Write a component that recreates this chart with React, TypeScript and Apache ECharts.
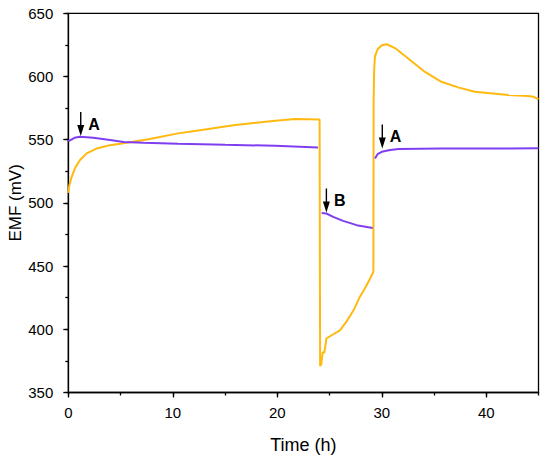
import React, { useEffect, useRef } from "react";
import * as echarts from "echarts";

// Time (h) / EMF (mV) pairs
const yellowTime = [0, 0.1, 0.3, 0.64, 1.1, 1.76, 2.7, 4, 5.6, 7.8, 10.5, 12.6, 15.8, 19.8, 21.7, 24.05, 24.1, 24.2, 24.35, 24.5, 24.7, 25.2, 26.0, 26.6, 27.3, 27.9, 28.55, 29.15, 29.2, 29.22, 29.27, 29.35, 29.6, 30.0, 30.5, 31.3, 32.5, 34.1, 35.7, 37.3, 38.9, 42.1, 44.0, 44.5, 45];
const yellowEMF = [508, 514, 520, 527.5, 533.8, 539.2, 543, 545.7, 547.6, 550.5, 555, 557.5, 561.5, 565, 566.3, 566, 371, 372, 382, 381.4, 392.7, 395.3, 399.2, 405.8, 415, 425.6, 434.9, 444.5, 446, 580, 605, 616, 621.5, 624.7, 625.5, 622.3, 614.4, 603.8, 595.8, 591.4, 587.9, 585.3, 584.5, 584, 582];

const purple1Time = [0, 0.2, 0.6, 1.1, 2.4, 4.0, 5.3, 7.2, 10.5, 15, 19.8, 23.9];
const purple1EMF = [549, 549.7, 551.5, 552.3, 551.5, 549.7, 548.1, 547.6, 546.8, 546, 545.2, 543.9];
const purple2Time = [24.25, 24.7, 25.35, 26.3, 27.6, 29.13];
const purple2EMF = [492.1, 491.6, 489, 485.8, 482.4, 480.2];
const purple3Time = [29.35, 29.6, 30.0, 30.8, 31.6, 35.7, 40, 45];
const purple3EMF = [535.2, 538.5, 540.4, 541.8, 542.6, 543.1, 543, 543.3];

// arrow annotations: [time, EMF, label]
const arrowTime = [1.19, 24.7, 30.05];
const arrowEMF = [552.9, 492.4, 543.1];
const arrowText = ["A", "B", "A"];

const FONT = "'Liberation Sans', Arial, Helvetica, sans-serif";
const YELLOW = "#FFB90F";
const PURPLE = "#7F3FF0";
const ARROW = "path://M4.3,0 L5.7,0 L5.7,13 L8.5,13 L5,24 L1.5,13 L4.3,13 Z";

const zip = (a: number[], b: number[]) => a.map((v, i) => [v, b[i]]);

export default function App() {
  const ref = useRef<HTMLDivElement>(null);
  useEffect(() => {
    if (!ref.current) return;
    const chart = echarts.init(ref.current, undefined, { renderer: "svg" });
    const markData = arrowTime.map((t, i) => ({
      coord: [t, arrowEMF[i]],
      label: { formatter: arrowText[i] },
    }));
    const lineSeries = (data: number[][], color: string, withMarks: boolean) => ({
      type: "line",
      data,
      showSymbol: false,
      symbol: "none",
      lineStyle: { color, width: 2 },
      itemStyle: { color },
      silent: true,
      z: color === PURPLE ? 3 : 2,
      markPoint: withMarks
        ? {
            symbol: ARROW,
            symbolSize: [7, 24],
            symbolOffset: [0, "-50%"],
            itemStyle: { color: "#000" },
            label: {
              show: true,
              position: "right",
              distance: 4,
              color: "#000",
              fontSize: 16,
              fontWeight: "bold",
              fontFamily: FONT,
            },
            data: markData,
          }
        : undefined,
    });
    const tickStyle = { color: "#000", width: 1.3 };
    chart.setOption({
      animation: false,
      grid: {
        left: 68.3,
        right: 11.5,
        top: 13.3,
        bottom: 68.5,
        containLabel: false,
        outerBoundsMode: "none",
        show: true,
        borderColor: "#000",
        borderWidth: 1.3,
        backgroundColor: "transparent",
      },
      xAxis: [
        {
          type: "value",
          min: 0,
          max: 45,
          interval: 10,
          position: "bottom",
          name: "Time (h)",
          nameLocation: "middle",
          nameGap: 43,
          nameMoveOverlap: false,
          nameTextStyle: { fontSize: 18, color: "#000", fontFamily: FONT },
          axisLine: { show: true, lineStyle: { color: "#000", width: 1.3 } },
          axisTick: { show: true, length: 5, lineStyle: tickStyle },
          axisLabel: { fontSize: 15, color: "#000", margin: 12, fontFamily: FONT, showMaxLabel: false },
          splitLine: { show: false },
        },
        {
          type: "value",
          min: 0,
          max: 45,
          interval: 5,
          position: "bottom",
          axisLine: { show: false },
          axisTick: { show: true, length: 3, lineStyle: tickStyle },
          axisLabel: { show: false },
          splitLine: { show: false },
        },
      ],
      yAxis: [
        {
          type: "value",
          min: 350,
          max: 650,
          interval: 50,
          position: "left",
          name: "EMF (mV)",
          nameLocation: "middle",
          nameGap: 44,
          nameMoveOverlap: false,
          nameTextStyle: { fontSize: 17, color: "#000", fontFamily: FONT },
          axisLine: { show: true, lineStyle: { color: "#000", width: 1.3 } },
          axisTick: { show: true, length: 5, lineStyle: tickStyle },
          axisLabel: { fontSize: 15, color: "#000", margin: 15, fontFamily: FONT },
          splitLine: { show: false },
        },
        {
          type: "value",
          min: 350,
          max: 650,
          interval: 25,
          position: "left",
          axisLine: { show: false },
          axisTick: { show: true, length: 3, lineStyle: tickStyle },
          axisLabel: { show: false },
          splitLine: { show: false },
        },
      ],
      series: [
        lineSeries(zip(yellowTime, yellowEMF), YELLOW, false),
        lineSeries(zip(purple1Time, purple1EMF), PURPLE, true),
        lineSeries(zip(purple2Time, purple2EMF), PURPLE, false),
        lineSeries(zip(purple3Time, purple3EMF), PURPLE, false),
      ],
    });
    return () => chart.dispose();
  }, []);
  return (
    <div
      ref={ref}
      style={{ position: "fixed", left: 0, top: 0, width: 550, height: 461, background: "#fff" }}
    />
  );
}
